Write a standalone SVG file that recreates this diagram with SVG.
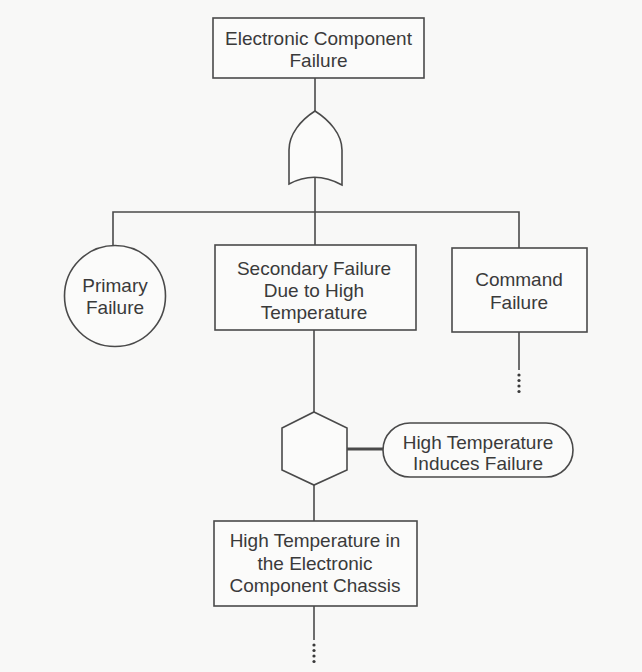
<svg xmlns="http://www.w3.org/2000/svg" width="642" height="672" viewBox="0 0 642 672">
<style>
.shape{fill:none;stroke:#4a4a4a;stroke-width:1.6}
.fillw{fill:#fbfbfa;stroke:#4a4a4a;stroke-width:1.6}
.ln{fill:none;stroke:#4a4a4a;stroke-width:1.6}
.dot{fill:#3a3a3a}
text{font-family:"Liberation Sans",Arial,Helvetica,sans-serif;font-size:19px;fill:#3a3a3a;text-anchor:middle}
</style>
<rect x="0" y="0" width="642" height="672" fill="#f8f8f7"/>
<g id="connectors">
  <line class="ln" x1="315" y1="78" x2="315" y2="112"/>
  <line class="ln" x1="315" y1="177" x2="315" y2="212"/>
  <polyline class="ln" points="113,246 113,212 519,212 519,248"/>
  <line class="ln" x1="315" y1="212" x2="315" y2="245"/>
  <line class="ln" x1="519" y1="332" x2="519" y2="370"/>
  <circle class="dot" cx="519" cy="375" r="1.6"/>
  <circle class="dot" cx="519" cy="380.5" r="1.6"/>
  <circle class="dot" cx="519" cy="386" r="1.6"/>
  <circle class="dot" cx="519" cy="391.5" r="1.6"/>
  <line class="ln" x1="314" y1="330" x2="314" y2="412"/>
  <line class="ln" x1="347" y1="449" x2="383" y2="449" style="stroke-width:3"/>
  <line class="ln" x1="314" y1="485" x2="314" y2="521"/>
  <line class="ln" x1="314" y1="606" x2="314" y2="640"/>
  <circle class="dot" cx="314" cy="645" r="1.6"/>
  <circle class="dot" cx="314" cy="650.5" r="1.6"/>
  <circle class="dot" cx="314" cy="656" r="1.6"/>
  <circle class="dot" cx="314" cy="661.5" r="1.6"/>
</g>
<g id="top-event">
  <rect class="fillw" x="213" y="18" width="211" height="60"/>
  <text x="318.5" y="45">Electronic Component</text>
  <text x="318.5" y="67">Failure</text>
</g>
<g id="or-gate">
  <path class="fillw" d="M315,111 C301,120 289,134 289,150 L289,184 Q315,170 342,185 L342,150 C342,134 329,120 315,111 Z"/>
</g>
<g id="primary-failure">
  <circle class="fillw" cx="115" cy="296" r="50.5"/>
  <text x="115" y="292">Primary</text>
  <text x="115" y="314">Failure</text>
</g>
<g id="secondary-failure">
  <rect class="fillw" x="215" y="245" width="201" height="85"/>
  <text x="314" y="275">Secondary Failure</text>
  <text x="314" y="297">Due to High</text>
  <text x="314" y="319">Temperature</text>
</g>
<g id="command-failure">
  <rect class="fillw" x="452" y="248" width="135" height="84"/>
  <text x="519" y="286">Command</text>
  <text x="519" y="309">Failure</text>
</g>
<g id="inhibit-gate">
  <polygon class="fillw" points="314,412 347,428 347,470 314,485 282,470 282,428"/>
</g>
<g id="condition">
  <rect class="fillw" x="383" y="423" width="190" height="54" rx="27" ry="27"/>
  <text x="478" y="449">High Temperature</text>
  <text x="478" y="470">Induces Failure</text>
</g>
<g id="chassis-temperature">
  <rect class="fillw" x="214" y="521" width="203" height="85"/>
  <text x="315" y="547">High Temperature in</text>
  <text x="315" y="570">the Electronic</text>
  <text x="315" y="592">Component Chassis</text>
</g>
</svg>
